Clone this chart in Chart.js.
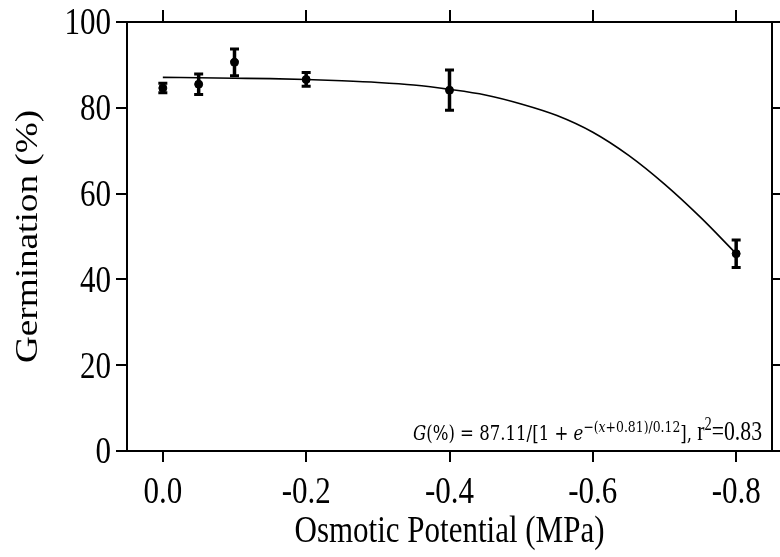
<!DOCTYPE html>
<html>
<head>
<meta charset="utf-8">
<script src="https://cdn.jsdelivr.net/npm/chart.js@4"></script>
<style>
  body { margin: 0; background: #fff; }
  #chart { display: block; }
</style>
</head>
<body>
<canvas id="chart" width="780" height="557"></canvas>
<script>
const osmoticPotential = [0, -0.05, -0.1, -0.2, -0.4, -0.8];
const germinationMean = [84.6, 85.5, 90.6, 86.6, 84.1, 46.0];
const germinationErr = [1.1, 2.4, 3.1, 1.6, 4.7, 3.2];

// fitted curve
const fitX = [0, -0.05, -0.1, -0.15, -0.2, -0.25, -0.3, -0.35, -0.4, -0.45, -0.5, -0.55, -0.6, -0.65, -0.7, -0.75, -0.8];
const fitY = [87.1, 87.0, 86.9, 86.8, 86.6, 86.3, 85.9, 85.3, 84.3, 83.0, 80.9, 78.2, 74.3, 68.9, 62.2, 54.5, 46.0];

const xTicks = [0, -0.2, -0.4, -0.6, -0.8];
const xTickLabels = ['0.0', '-0.2', '-0.4', '-0.6', '-0.8'];
const yTicks = [0, 20, 40, 60, 80, 100];
const yTickLabels = ['0', '20', '40', '60', '80', '100'];

const xTitle = 'Osmotic Potential (MPa)';
const yTitle = 'Germination (%)';

// equation text pieces
const eqParts = [
  { t: 'G', f: 'italic 16px "DejaVu Serif"', up: 0 },
  { t: '(%) = 87.11/[1 + ', f: '16px "DejaVu Serif"', up: 0 },
  { t: 'e', f: 'italic 16px "DejaVu Serif"', up: 0 },
  { t: '\u2212(', f: '12px "DejaVu Serif"', up: 8 },
  { t: 'x', f: 'italic 12px "DejaVu Serif"', up: 8 },
  { t: '+0.81)/0.12', f: '12px "DejaVu Serif"', up: 8 },
  { t: '], ', f: '16px "DejaVu Serif"', up: 0 },
  { t: 'r', f: '21px "Liberation Serif"', up: 0 },
  { t: '2', f: '14px "Liberation Serif"', up: 10 },
  { t: '=0.83', f: '21px "Liberation Serif"', up: 0 }
];

const SY = 1.2; // the figure text is a bit taller than wide
const EQ_SY = 1.3;
const labelFont = '31px "Liberation Serif"';

const axisGrid = (len) => ({
  drawOnChartArea: false,
  drawTicks: true,
  tickLength: len,
  color: '#000',
  lineWidth: 2
});
const axisBorder = { display: true, color: '#000', width: 2 };

// white background
const bgPlugin = {
  id: 'bg',
  beforeDraw(chart) {
    const ctx = chart.ctx;
    ctx.save();
    ctx.fillStyle = '#fff';
    ctx.fillRect(0, 0, chart.width, chart.height);
    ctx.restore();
  }
};

// error bars
const errorBarPlugin = {
  id: 'errorBars',
  afterDatasetsDraw(chart) {
    const ctx = chart.ctx;
    const xs = chart.scales.x, ys = chart.scales.y;
    ctx.save();
    ctx.strokeStyle = '#000';
    osmoticPotential.forEach((v, i) => {
      const px = xs.getPixelForValue(v);
      const top = ys.getPixelForValue(germinationMean[i] + germinationErr[i]);
      const bot = ys.getPixelForValue(germinationMean[i] - germinationErr[i]);
      ctx.lineWidth = 3.5;
      ctx.beginPath();
      ctx.moveTo(px, top);
      ctx.lineTo(px, bot);
      ctx.stroke();
      ctx.lineWidth = 3;
      ctx.beginPath();
      ctx.moveTo(px - 4.5, top);
      ctx.lineTo(px + 4.5, top);
      ctx.moveTo(px - 4.5, bot);
      ctx.lineTo(px + 4.5, bot);
      ctx.stroke();
    });
    ctx.restore();
  }
};

function stretchedText(ctx, txt, x, y, align, rotated) {
  ctx.save();
  ctx.translate(x, y);
  if (rotated) {
    ctx.rotate(-Math.PI / 2);
    ctx.scale(SY, 1);
  } else {
    ctx.scale(1, SY);
  }
  ctx.textAlign = align;
  ctx.textBaseline = 'alphabetic';
  ctx.fillText(txt, 0, 0);
  ctx.restore();
}

// tick labels, titles and the fit equation
const textPlugin = {
  id: 'texts',
  afterDraw(chart) {
    const ctx = chart.ctx;
    const xs = chart.scales.x, ys = chart.scales.y;
    ctx.save();
    ctx.fillStyle = '#000';
    ctx.font = labelFont;
    const capH = 0.662 * 31 * SY;
    yTicks.forEach((v, i) => {
      stretchedText(ctx, yTickLabels[i], xs.left - 16, ys.getPixelForValue(v) + capH / 2, 'right');
    });
    xTicks.forEach((v, i) => {
      stretchedText(ctx, xTickLabels[i], xs.getPixelForValue(v), ys.bottom + 52, 'center');
    });
    stretchedText(ctx, xTitle, (xs.left + xs.right) / 2, 542, 'center');
    stretchedText(ctx, yTitle, 37, (ys.top + ys.bottom) / 2, 'center', true);

    // equation, fitted between x=413 and x=762
    let w = 0;
    eqParts.forEach(p => { ctx.font = p.f; p.w = ctx.measureText(p.t).width; w += p.w; });
    const sx = 349 / w;
    ctx.translate(413, 440);
    ctx.scale(sx, EQ_SY);
    ctx.textAlign = 'left';
    let cx = 0;
    eqParts.forEach(p => {
      ctx.font = p.f;
      ctx.fillText(p.t, cx, -p.up / EQ_SY);
      cx += p.w;
    });
    ctx.restore();
  }
};

new Chart(document.getElementById('chart'), {
  data: {
    datasets: [
      {
        type: 'line',
        data: fitX.map((x, i) => ({ x: x, y: fitY[i] })),
        borderColor: '#000',
        borderWidth: 1.6,
        pointRadius: 0,
        fill: false,
        cubicInterpolationMode: 'monotone'
      },
      {
        type: 'scatter',
        data: osmoticPotential.map((x, i) => ({ x: x, y: germinationMean[i] })),
        backgroundColor: '#000',
        borderColor: '#000',
        pointRadius: 4,
        pointStyle: 'circle'
      }
    ]
  },
  options: {
    responsive: false,
    animation: false,
    layout: { padding: { left: 116, top: 10, right: 0, bottom: 95 } },
    plugins: { legend: { display: false }, tooltip: { enabled: false } },
    scales: {
      x: {
        type: 'linear', position: 'bottom', reverse: true, min: -0.85, max: 0.05,
        afterBuildTicks: s => { s.ticks = xTicks.map(v => ({ value: v })); },
        ticks: { display: false },
        grid: axisGrid(11),
        border: axisBorder
      },
      x2: {
        type: 'linear', position: 'top', reverse: true, min: -0.85, max: 0.05,
        afterBuildTicks: s => { s.ticks = xTicks.map(v => ({ value: v })); },
        ticks: { display: false },
        grid: axisGrid(12),
        border: axisBorder
      },
      y: {
        type: 'linear', position: 'left', min: 0, max: 100,
        afterBuildTicks: s => { s.ticks = yTicks.map(v => ({ value: v })); },
        ticks: { display: false },
        grid: axisGrid(11),
        border: axisBorder
      },
      y2: {
        type: 'linear', position: 'right', min: 0, max: 100,
        afterBuildTicks: s => { s.ticks = yTicks.map(v => ({ value: v })); },
        ticks: { display: false },
        grid: axisGrid(8),
        border: axisBorder
      }
    }
  },
  plugins: [bgPlugin, errorBarPlugin, textPlugin]
});
</script>
</body>
</html>
